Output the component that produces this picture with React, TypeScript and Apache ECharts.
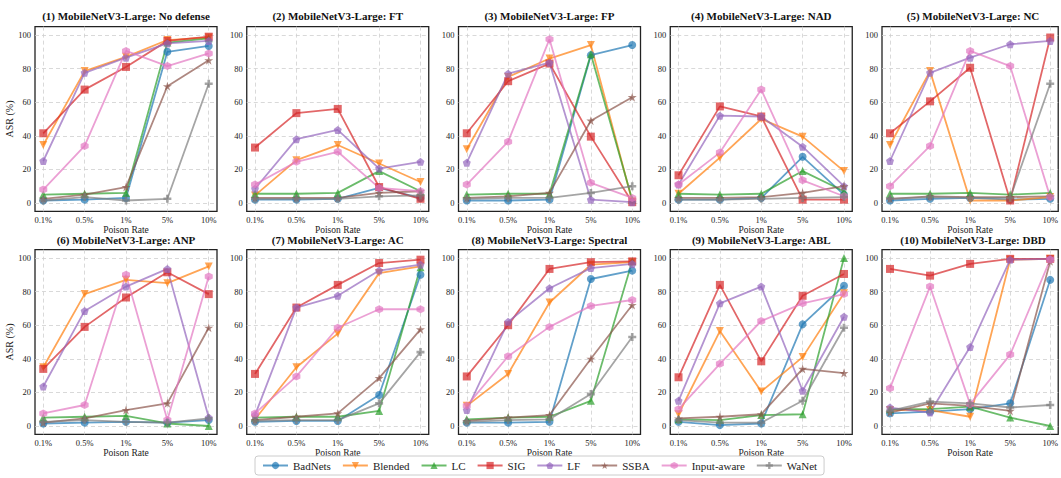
import React, { useEffect, useRef } from 'react';
import * as echarts from 'echarts';

const xLabels = ['0.1%', '0.5%', '1%', '5%', '10%'];
const xTickPos = [0, 1, 2, 3, 4];
const yTicks = [0, 20, 40, 60, 80, 100];
const seriesNames = ['BadNets', 'Blended', 'LC', 'SIG', 'LF', 'SSBA', 'Input-aware', 'WaNet'];
const colors = ['#1f77b4', '#ff7f0e', '#2ca02c', '#d62728', '#9467bd', '#8c564b', '#e377c2', '#7f7f7f'];
const titles = [
  '(1) MobileNetV3-Large: No defense',
  '(2) MobileNetV3-Large: FT',
  '(3) MobileNetV3-Large: FP',
  '(4) MobileNetV3-Large: NAD',
  '(5) MobileNetV3-Large: NC',
  '(6) MobileNetV3-Large: ANP',
  '(7) MobileNetV3-Large: AC',
  '(8) MobileNetV3-Large: Spectral',
  '(9) MobileNetV3-Large: ABL',
  '(10) MobileNetV3-Large: DBD',
];

// Each panel: rows in order BadNets, Blended, LC, SIG, LF, SSBA, Input-aware, WaNet
const noDefense = [
  [1.5, 2, 3, 90, 93.5],
  [34.5, 78.5, 87, 97, 98.5],
  [5, 5.5, 6, 95.5, 98],
  [41.5, 67.5, 81, 96.5, 99],
  [25, 77.5, 86.5, 95, 96.5],
  [2.5, 5, 9.5, 69.5, 85],
  [8, 34, 90.5, 81.5, 89],
  [1.5, 3.5, 1.5, 2.5, 71],
];
const ft = [
  [2, 2, 2.5, 9, 3],
  [4.5, 25.5, 34.5, 23.5, 12.5],
  [5.5, 5.5, 6, 19, 7],
  [33, 53.5, 56, 9.5, 2.5],
  [8.5, 38, 43.5, 20.5, 24.5],
  [3, 3, 3, 6, 7],
  [11, 24.5, 30.5, 9, 7],
  [2.5, 2.5, 2.5, 4, 4.5],
];
const fp = [
  [1.5, 1.5, 2, 88, 94],
  [32, 75, 86, 94, 1],
  [5, 5.5, 5.5, 88.5, 2],
  [41.5, 72.5, 83, 39.5, 0.5],
  [24, 77, 83.5, 2, 0.5],
  [3, 4, 6, 49, 63],
  [11, 36.5, 97.5, 12, 3],
  [2.5, 3, 3, 6, 10],
];
const nad = [
  [2, 2, 3, 27.5, 5],
  [5.5, 27, 50, 39.5, 19],
  [5.5, 5, 5.5, 19, 7],
  [16.5, 57.5, 51.5, 2, 2],
  [11, 52, 51.5, 33.5, 10],
  [3, 3, 3.5, 6, 10],
  [11, 30, 67.5, 13.5, 4],
  [2, 2, 2.5, 3, 3.5],
];
const nc = [
  [1.5, 2.5, 3, 2, 2.5],
  [34.5, 78.5, 1.5, 1.5, 3.5],
  [5.5, 5.5, 6, 5, 6],
  [41.5, 60.5, 80.5, 1.5, 98.5],
  [25, 77.5, 86.5, 94.5, 96.5],
  [2.5, 4, 3.5, 3.5, 4],
  [10, 34, 90.5, 81.5, 3.5],
  [2.5, 3.5, 3, 3, 71],
];
const anp = [
  [1.5, 2, 2.5, 2, 3.5],
  [35, 78.5, 87, 85, 95],
  [5, 5.5, 6, 1.5, 0],
  [34, 59, 76.5, 91.5, 78.5],
  [23.5, 68.5, 83, 93.5, 5],
  [2, 4.5, 9.5, 13.5, 58.5],
  [7.5, 12.5, 90, 3.5, 89],
  [2.5, 3.5, 2.5, 2, 4.5],
];
const ac = [
  [2.5, 3, 3, 18.5, 90],
  [4, 35, 55, 91, 95],
  [5, 5.5, 5.5, 9, 94.5],
  [31, 70.5, 84, 97, 99],
  [6.5, 70.5, 77.5, 92.5, 96],
  [3.5, 5.5, 7.5, 28.5, 57.5],
  [7.5, 29.5, 58.5, 69.5, 69.5],
  [3, 3.5, 3.5, 13.5, 44],
];
const spectral = [
  [2, 2, 2.5, 87.5, 92.5],
  [12, 31, 73.5, 96, 97.5],
  [4, 5, 5.5, 15, 98],
  [29.5, 60, 93.5, 97.5, 98],
  [9.5, 62, 82, 94, 96.5],
  [3, 5, 6.5, 40, 72],
  [12, 41.5, 59, 71.5, 75],
  [2.5, 3.5, 4, 19, 53],
];
const abl = [
  [2.5, 0.5, 1.5, 60.5, 83.5],
  [7, 56.5, 20.5, 41, 79],
  [4, 3.5, 6.5, 7, 100],
  [29, 84, 38.5, 77.5, 90.5],
  [15, 73, 83, 21, 65],
  [4.5, 5.5, 7, 34, 31.5],
  [10, 37, 62.5, 73, 78.5],
  [3.5, 2, 2, 15, 58.5],
];
const dbd = [
  [7.5, 8.5, 10, 13.5, 87],
  [9.5, 9.5, 5.5, 99, 99.5],
  [10, 10, 11.5, 5, 0],
  [93.5, 89.5, 96.5, 99.5, 99.5],
  [11, 8, 47, 99, 99.5],
  [8, 13.5, 12, 9, 98],
  [22.5, 83, 13, 42.5, 99],
  [9, 14.5, 13.5, 11, 12.5],
];

const panels = [noDefense, ft, fp, nad, nc, anp, ac, spectral, abl, dbd];

const symbols = [
  'circle',
  'path://M-1,-0.9 L1,-0.9 L0,0.9 Z',
  'triangle',
  'rect',
  'path://M0,-1 L0.951,-0.309 L0.588,0.809 L-0.588,0.809 L-0.951,-0.309 Z',
  'path://M0,-1 L0.2245,-0.309 L0.951,-0.309 L0.363,0.118 L0.588,0.809 L0,0.382 L-0.588,0.809 L-0.363,0.118 L-0.951,-0.309 L-0.2245,-0.309 Z',
  'path://M0,-1 L0.866,-0.5 L0.866,0.5 L0,1 L-0.866,0.5 L-0.866,-0.5 Z',
  'path://M-0.33,-1 L0.33,-1 L0.33,-0.33 L1,-0.33 L1,0.33 L0.33,0.33 L0.33,1 L-0.33,1 L-0.33,0.33 L-1,0.33 L-1,-0.33 L-0.33,-0.33 Z',
];
const symbolSizes = [8, 8, 8, 8, 8, 9, 8, 8];

const FONT = 'Liberation Serif, Times New Roman, serif';
const TEXT = '#222';

export default function App() {
  const ref = useRef<HTMLDivElement>(null);
  useEffect(() => {
    if (!ref.current) return;
    const chart = echarts.init(ref.current, null, { renderer: 'svg' });
    const gridW = 182;
    const gridH = 184.8;
    const lefts = [35, 246.75, 458.5, 670.25, 882];
    const tops = [26.6, 249.6];

    const grid: any[] = [];
    const xAxis: any[] = [];
    const yAxis: any[] = [];
    const series: any[] = [];
    const graphic: any[] = [];
    const splitLine = { show: true, lineStyle: { color: '#cfcfcf', type: [4, 3], width: 0.8 } };

    panels.forEach((panel, p) => {
      const row = Math.floor(p / 5);
      const col = p % 5;
      grid.push({
        left: lefts[col],
        top: tops[row],
        width: gridW,
        height: gridH,
        show: true,
        borderColor: '#222',
        borderWidth: 1.3,
        backgroundColor: '#fff',
      });
      xAxis.push({
        type: 'value',
        gridIndex: p,
        min: -0.2,
        max: 4.2,
        axisLine: { show: false },
        axisTick: { show: false, customValues: xTickPos },
        axisLabel: {
          customValues: xTickPos,
          formatter: (v: number) => xLabels[Math.round(v)],
          fontSize: 8.5,
          fontFamily: FONT,
          color: TEXT,
          margin: 4,
        },
        splitLine,
        name: 'Poison Rate',
        nameLocation: 'middle',
        nameGap: 12,
        nameTextStyle: { fontSize: 9.5, fontFamily: FONT, color: TEXT },
      });
      yAxis.push({
        type: 'value',
        gridIndex: p,
        min: -5,
        max: 105,
        axisLine: { show: false },
        axisTick: { show: false, customValues: yTicks },
        axisLabel: {
          customValues: yTicks,
          fontSize: 8.5,
          fontFamily: FONT,
          color: TEXT,
          margin: 4,
        },
        splitLine,
        name: col === 0 ? 'ASR (%)' : '',
        nameLocation: 'middle',
        nameGap: 18,
        nameRotate: 90,
        nameTextStyle: { fontSize: 10, fontFamily: FONT, color: TEXT },
      });
      panel.forEach((vals, s) => {
        series.push({
          type: 'line',
          name: seriesNames[s],
          xAxisIndex: p,
          yAxisIndex: p,
          data: vals.map((v, i) => [i, v]),
          symbol: symbols[s],
          symbolSize: symbolSizes[s],
          showAllSymbol: true,
          lineStyle: { color: colors[s], width: 1.8, opacity: 0.7 },
          itemStyle: { color: colors[s], opacity: 0.7 },
          emphasis: { disabled: true },
          silent: true,
        });
      });
      graphic.push({
        type: 'text',
        x: lefts[col] + gridW / 2,
        y: row === 0 ? 16 : 239.5,
        style: {
          text: titles[p],
          fill: '#111',
          fontSize: 11,
          fontWeight: 'bold',
          fontFamily: FONT,
          align: 'center',
          verticalAlign: 'middle',
        },
      });
    });

    chart.setOption({
      animation: false,
      backgroundColor: '#fff',
      grid,
      xAxis,
      yAxis,
      series,
      graphic,
      legend: {
        data: seriesNames,
        left: 255,
        top: 456,
        itemWidth: 25,
        itemHeight: 9,
        itemGap: 11,
        padding: [4, 7],
        borderColor: '#ccc',
        borderWidth: 1,
        borderRadius: 3,
        textStyle: { fontSize: 11, fontFamily: FONT, color: TEXT },
      },
    });
    return () => chart.dispose();
  }, []);
  return <div ref={ref} style={{ position: 'absolute', left: 0, top: 0, width: 1061, height: 478 }} />;
}
